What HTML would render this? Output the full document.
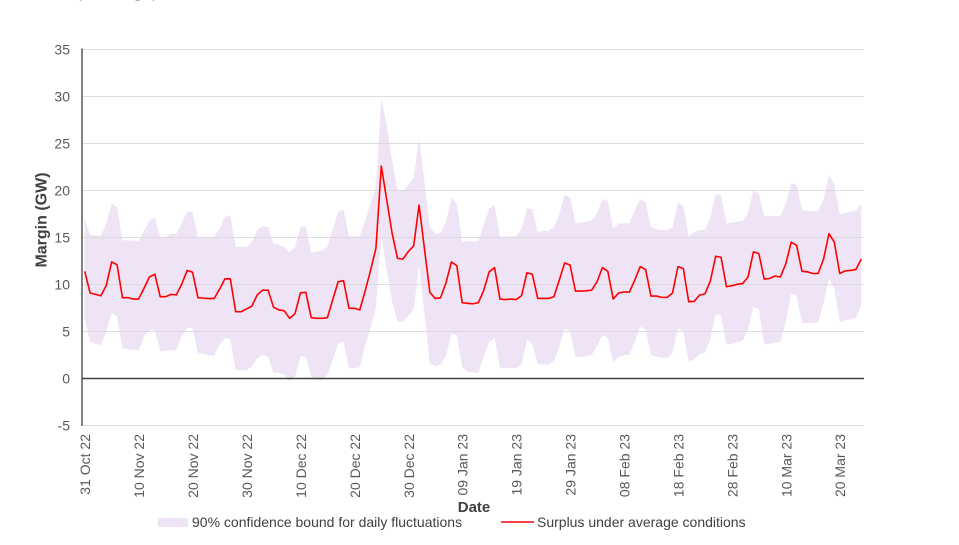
<!DOCTYPE html>
<html>
<head>
<meta charset="utf-8">
<style>
  html, body { margin: 0; padding: 0; background: #ffffff; }
  svg { display: block; }
  text { font-family: "Liberation Sans", Arial, sans-serif; }
</style>
</head>
<body>
<svg width="959" height="545" viewBox="0 0 959 545" xmlns="http://www.w3.org/2000/svg">
  <rect x="0" y="0" width="959" height="545" fill="#ffffff"/>

  <!-- cut-off heading at top -->
  <text x="77" y="-2" font-size="14" fill="#a6a6a6">(GW margin)</text>

  <!-- confidence band -->
  <g transform="translate(84.7,378.5) scale(5.393,-9.4)">
    <polygon fill="#efe4f5" stroke="none" points="
0,17 1,15.25 2,15.2 3,15.2 4,16.5 5,18.6 6,18.2 7,14.7 8,14.7 9,14.65 10,14.6 11,15.7 12,16.8 13,17.1 14,15.06 15,15.06 16,15.4 17,15.4 18,16.5 19,17.8 20,17.7 21,15.06 22,15.06 23,15.06 24,15.06 25,15.95 26,17.2 27,17.4 28,14 29,14 30,14 31,14.5 32,15.8 33,16.2 34,16.1 35,14.36 36,14.2 37,14 38,13.4 39,14 40,16.1 41,16.2 42,13.4 43,13.5 44,13.6 45,14 46,15.9 47,17.7 48,18 49,15.1 50,15.1 51,15.1 52,16.8 53,18.6 54,20.4 55,29.9 56,26.9 57,23.2 58,20.1 59,20 60,20.6 61,21.3 62,25.7 63,20.9 64,16.15 65,15.4 66,15.5 67,16.7 68,19.2 69,18.6 70,14.5 71,14.6 72,14.6 73,14.6 74,16.3 75,18.07 76,18.5 77,15.06 78,15.1 79,15.1 80,15.1 81,15.95 82,18.1 83,18 84,15.6 85,15.7 86,15.7 87,16.1 88,17.5 89,19.55 90,19.3 91,16.5 92,16.6 93,16.7 94,16.8 95,17.6 96,19.1 97,18.9 98,15.95 99,16.5 100,16.5 101,16.5 102,17.9 103,19.1 104,18.8 105,16.1 106,15.9 107,15.8 108,15.8 109,16.1 110,18.7 111,18.4 112,15.06 113,15.6 114,15.8 115,15.8 116,17.1 117,19.66 118,19.5 119,16.5 120,16.6 121,16.7 122,16.8 123,17.7 124,20 125,19.7 126,17.25 127,17.3 128,17.3 129,17.3 130,18.6 131,20.8 132,20.6 133,17.96 134,17.8 135,17.8 136,17.8 137,19.1 138,21.6 139,20.7 140,17.5 141,17.6 142,17.7 143,17.9 144,18.6
144,7.8 143,6.5 142,6.3 141,6.2 140,6 139,9.6 138,10.6 137,8 136,6 135,5.9 134,5.9 133,5.9 132,8.8 131,9.05 130,6 129,3.9 128,3.8 127,3.7 126,3.6 125,7.4 124,7.6 123,5.2 122,4 121,3.9 120,3.7 119,3.6 118,6.7 117,6.9 116,4.2 115,2.75 114,2.6 113,2 112,1.8 111,5 110,5.3 109,2.7 108,2.2 107,2.2 106,2.3 105,2.5 104,5.2 103,5.5 102,3.9 101,2.5 100,2.5 99,2.3 98,1.7 97,4.3 96,4.6 95,3.5 94,2.5 93,2.4 92,2.3 91,2.3 90,5 89,5.3 88,3.4 87,1.85 86,1.5 85,1.5 84,1.5 83,3.7 82,4.1 81,1.5 80,1.1 79,1.1 78,1.1 77,1.1 76,4.3 75,3.9 74,2.3 73,0.6 72,0.66 71,0.7 70,1.2 69,4.6 68,4.8 67,2.4 66,1.5 65,1.3 64,1.6 63,6.9 62,12.2 61,7.3 60,6.7 59,6.05 58,6.05 57,8.2 56,11.5 55,15.3 54,7.5 53,5.4 52,3.5 51,1.2 50,1.1 49,1.1 48,3.9 47,3.74 46,2 45,0.37 44,-0.15 43,-0.15 42,0.2 41,2.3 40,2.4 39,0.2 38,-0.3 37,0.4 36,0.6 35,0.64 34,2.3 33,2.5 32,2.15 31,1.3 30,0.85 29,0.85 28,0.92 27,4.2 26,4.3 25,3.6 24,2.4 23,2.5 22,2.6 21,2.7 20,5.3 19,5.45 18,4.5 17,3 16,3 15,3 14,2.86 13,5.16 12,5.16 11,4.5 10,3 9,3.05 8,3.1 7,3.2 6,6.6 5,7 4,5 3,3.57 2,3.7 1,3.9 0,6.4"/>
  </g>

  <!-- gridlines -->
  <g stroke="#d9d9d9" stroke-width="1" opacity="0.85">
    <line x1="82" y1="49.5" x2="864" y2="49.5"/>
    <line x1="82" y1="96.5" x2="864" y2="96.5"/>
    <line x1="82" y1="143.5" x2="864" y2="143.5"/>
    <line x1="82" y1="190.5" x2="864" y2="190.5"/>
    <line x1="82" y1="237.5" x2="864" y2="237.5"/>
    <line x1="82" y1="284.5" x2="864" y2="284.5"/>
    <line x1="82" y1="331.5" x2="864" y2="331.5"/>
    <line x1="82" y1="425.5" x2="864" y2="425.5"/>
  </g>

  <!-- zero line and left axis -->
  <line x1="82" y1="378.5" x2="864" y2="378.5" stroke="#404040" stroke-width="1.5"/>
  <line x1="82" y1="48.5" x2="82" y2="426" stroke="#595959" stroke-width="1.5"/>

  <!-- red line -->
  <g transform="translate(84.7,378.5) scale(5.393,-9.4)">
    <polyline fill="none" stroke="#ff0000" stroke-width="1.6" stroke-linejoin="round" vector-effect="non-scaling-stroke" points="
0,11.4 1,9.1 2,8.95 3,8.8 4,9.9 5,12.4 6,12.1 7,8.6 8,8.6 9,8.45 10,8.45 11,9.6 12,10.8 13,11.1 14,8.7 15,8.7 16,8.95 17,8.9 18,10.05 19,11.5 20,11.3 21,8.6 22,8.55 23,8.5 24,8.5 25,9.5 26,10.6 27,10.6 28,7.1 29,7.1 30,7.4 31,7.7 32,8.9 33,9.4 34,9.4 35,7.6 36,7.3 37,7.2 38,6.4 39,6.9 40,9.1 41,9.17 42,6.47 43,6.4 44,6.4 45,6.47 46,8.4 47,10.3 48,10.4 49,7.47 50,7.47 51,7.3 52,9.3 53,11.5 54,13.85 55,22.6 56,19 57,15.45 58,12.78 59,12.7 60,13.5 61,14.1 62,18.45 63,13.8 64,9.17 65,8.5 66,8.6 67,10.2 68,12.4 69,12 70,8.06 71,8 72,7.95 73,8.06 74,9.4 75,11.35 76,11.8 77,8.45 78,8.4 79,8.45 80,8.4 81,8.8 82,11.24 83,11.1 84,8.52 85,8.52 86,8.52 87,8.7 88,10.47 89,12.3 90,12.06 91,9.3 92,9.3 93,9.33 94,9.4 95,10.3 96,11.8 97,11.4 98,8.45 99,9.1 100,9.2 101,9.2 102,10.47 103,11.9 104,11.6 105,8.77 106,8.77 107,8.63 108,8.63 109,9.1 110,11.9 111,11.7 112,8.17 113,8.2 114,8.87 115,9 116,10.35 117,13 118,12.9 119,9.76 120,9.87 121,10.02 122,10.1 123,10.8 124,13.47 125,13.3 126,10.57 127,10.64 128,10.9 129,10.8 130,12.2 131,14.5 132,14.17 133,11.4 134,11.35 135,11.17 136,11.17 137,12.7 138,15.4 139,14.5 140,11.17 141,11.45 142,11.5 143,11.6 144,12.7"/>
  </g>

  <!-- y tick labels -->
  <g font-size="14" fill="#595959" text-anchor="end">
    <text x="70" y="54.5">35</text>
    <text x="70" y="101.5">30</text>
    <text x="70" y="148.5">25</text>
    <text x="70" y="195.5">20</text>
    <text x="70" y="242.5">15</text>
    <text x="70" y="289.5">10</text>
    <text x="70" y="336.5">5</text>
    <text x="70" y="383.5">0</text>
    <text x="70" y="430.5">-5</text>
  </g>

  <!-- x tick labels -->
  <g font-size="14" fill="#595959" text-anchor="end">
    <text transform="translate(90.2,434) rotate(-90)">31 Oct 22</text>
    <text transform="translate(144.1,434) rotate(-90)">10 Nov 22</text>
    <text transform="translate(198.1,434) rotate(-90)">20 Nov 22</text>
    <text transform="translate(252,434) rotate(-90)">30 Nov 22</text>
    <text transform="translate(305.9,434) rotate(-90)">10 Dec 22</text>
    <text transform="translate(359.9,434) rotate(-90)">20 Dec 22</text>
    <text transform="translate(413.8,434) rotate(-90)">30 Dec 22</text>
    <text transform="translate(467.7,434) rotate(-90)">09 Jan 23</text>
    <text transform="translate(521.6,434) rotate(-90)">19 Jan 23</text>
    <text transform="translate(575.6,434) rotate(-90)">29 Jan 23</text>
    <text transform="translate(629.5,434) rotate(-90)">08 Feb 23</text>
    <text transform="translate(683.4,434) rotate(-90)">18 Feb 23</text>
    <text transform="translate(737.4,434) rotate(-90)">28 Feb 23</text>
    <text transform="translate(791.3,434) rotate(-90)">10 Mar 23</text>
    <text transform="translate(845.2,434) rotate(-90)">20 Mar 23</text>
  </g>

  <!-- axis titles -->
  <text x="474" y="512" font-size="15" font-weight="bold" fill="#404040" text-anchor="middle">Date</text>
  <text transform="translate(46.5,220) rotate(-90)" font-size="16" font-weight="bold" fill="#404040" text-anchor="middle">Margin (GW)</text>

  <!-- legend -->
  <rect x="158" y="518" width="30" height="9" fill="#efe4f5"/>
  <text x="192" y="527" font-size="14" fill="#404040">90% confidence bound for daily fluctuations</text>
  <line x1="501" y1="522" x2="534" y2="522" stroke="#ff0000" stroke-width="1.6"/>
  <text x="537" y="527" font-size="14" fill="#404040">Surplus under average conditions</text>
</svg>
</body>
</html>
